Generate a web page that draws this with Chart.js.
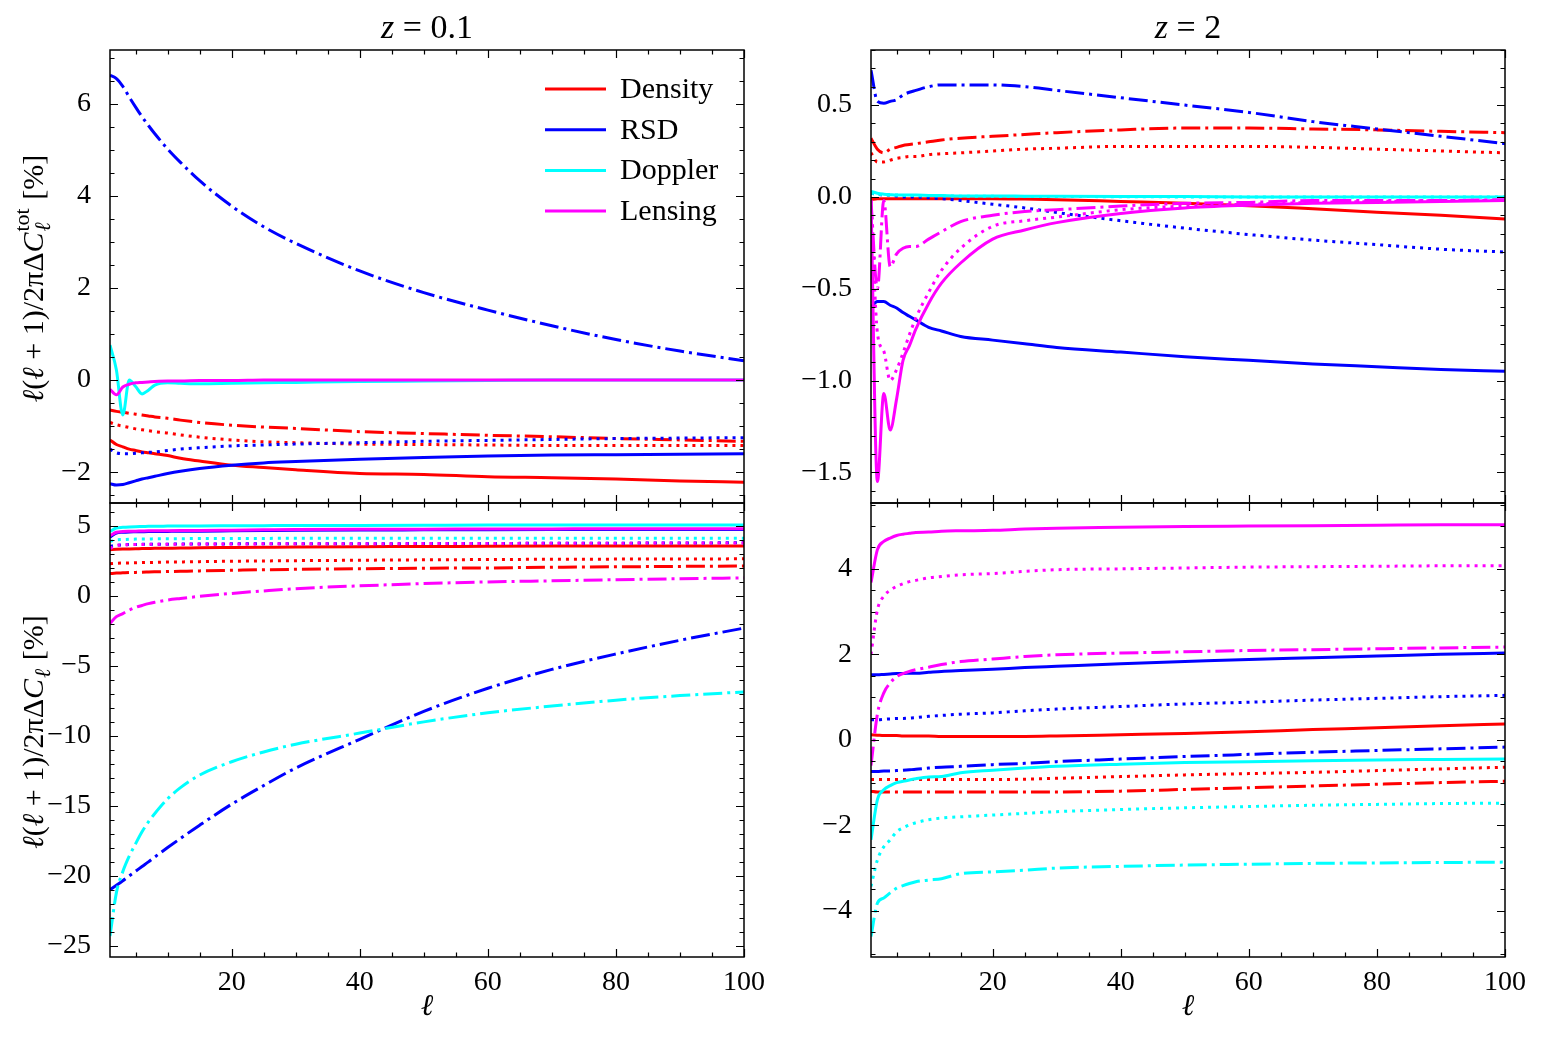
<!DOCTYPE html>
<html>
<head>
<meta charset="utf-8">
<script src="https://cdn.jsdelivr.net/npm/chart.js@4.4.1/dist/chart.umd.min.js"></script>
<style>
body { margin: 0; background: #fff; }
#wrap { position: relative; width: 1543px; height: 1040px; }
canvas { position: absolute; left: 0; top: 0; }
</style>
</head>
<body>
<div id="wrap">
<canvas id="tl" width="1543" height="1040"></canvas>
<canvas id="tr" width="1543" height="1040"></canvas>
<canvas id="bl" width="1543" height="1040"></canvas>
<canvas id="br" width="1543" height="1040"></canvas>
</div>
<script>
// multipoles
var ell = [1, 2, 3, 4, 5, 6, 7, 8, 10, 12, 15, 20, 25, 30, 40, 50, 60, 70, 80, 90, 100];

// z = 0.1, total
var tlDensSolid = [-1.3, -1.4, -1.45, -1.5, -1.53, -1.56, -1.58, -1.6, -1.64, -1.7, -1.76, -1.85, -1.9, -1.95, -2.03, -2.05, -2.1, -2.12, -2.15, -2.19, -2.22];
var tlDensDot = [-0.92, -0.97, -1.0, -1.03, -1.06, -1.08, -1.1, -1.12, -1.15, -1.19, -1.24, -1.3, -1.34, -1.36, -1.39, -1.4, -1.41, -1.42, -1.42, -1.42, -1.42];
var tlDensDashDot = [-0.65, -0.68, -0.7, -0.72, -0.74, -0.76, -0.78, -0.8, -0.83, -0.87, -0.92, -0.98, -1.02, -1.05, -1.12, -1.16, -1.2, -1.23, -1.27, -1.3, -1.33];
var tlRsdSolid = [-2.25, -2.28, -2.27, -2.23, -2.19, -2.15, -2.12, -2.09, -2.03, -1.98, -1.92, -1.85, -1.8, -1.77, -1.72, -1.68, -1.65, -1.63, -1.62, -1.61, -1.6];
var tlRsdDot = [-1.5, -1.58, -1.6, -1.6, -1.59, -1.58, -1.57, -1.56, -1.53, -1.5, -1.47, -1.43, -1.41, -1.39, -1.36, -1.33, -1.31, -1.29, -1.27, -1.26, -1.25];
var tlRsdDashDot = [6.62, 6.55, 6.38, 6.15, 5.93, 5.72, 5.53, 5.35, 5.02, 4.73, 4.33, 3.78, 3.33, 2.97, 2.37, 1.9, 1.52, 1.18, 0.88, 0.63, 0.42];
var tlDopSolid = [0.76, 0.22, -0.76, 0.0, -0.14, -0.3, -0.22, -0.11, -0.06, -0.07, -0.08, -0.07, -0.06, -0.05, -0.03, -0.02, -0.01, 0, 0, 0, 0];
var tlLensSolid = [-0.2, -0.32, -0.15, -0.09, -0.06, -0.05, -0.04, -0.03, -0.02, -0.02, -0.01, -0.01, 0, 0, 0, 0, 0, 0, 0, 0, 0];

// z = 2, total
var trDensSolid = [-0.015, -0.01, -0.01, -0.01, -0.01, -0.01, -0.01, -0.01, -0.01, -0.01, -0.01, -0.01, -0.012, -0.015, -0.025, -0.035, -0.048, -0.065, -0.083, -0.1, -0.12];
var trDensDot = [0.24, 0.19, 0.19, 0.2, 0.21, 0.215, 0.22, 0.22, 0.23, 0.235, 0.24, 0.25, 0.26, 0.265, 0.275, 0.275, 0.275, 0.27, 0.26, 0.25, 0.24];
var trDensDashDot = [0.32, 0.26, 0.24, 0.26, 0.27, 0.28, 0.285, 0.29, 0.3, 0.31, 0.32, 0.33, 0.34, 0.35, 0.365, 0.375, 0.375, 0.37, 0.365, 0.357, 0.35];
var trRsdSolid = [-0.6, -0.57, -0.57, -0.59, -0.605, -0.63, -0.65, -0.67, -0.71, -0.73, -0.76, -0.78, -0.8, -0.82, -0.845, -0.87, -0.89, -0.91, -0.925, -0.94, -0.95];
var trRsdDot = [0.02, 0.015, 0.01, 0.01, 0.005, 0.0, 0.0, 0.0, -0.005, -0.01, -0.02, -0.04, -0.06, -0.085, -0.13, -0.17, -0.205, -0.235, -0.26, -0.285, -0.3];
var trRsdDashDot = [0.69, 0.52, 0.51, 0.52, 0.53, 0.555, 0.57, 0.58, 0.6, 0.61, 0.61, 0.61, 0.6, 0.58, 0.54, 0.5, 0.46, 0.41, 0.37, 0.33, 0.29];
var trDopSolid = [0.03, 0.02, 0.015, 0.012, 0.01, 0.01, 0.01, 0.01, 0.008, 0.007, 0.005, 0.005, 0.004, 0.003, 0.002, 0.002, 0.0, 0.0, 0.0, 0.0, 0.0];
var trDopDot = [0.02, 0.015, 0.012, 0.01, 0.01, 0.008, 0.008, 0.007, 0.006, 0.005, 0.004, 0.003, 0.002, 0.002, 0.001, 0.0, 0.0, 0.0, 0.0, 0.0, 0.0];
var trLensSolid = [-0.02, -1.55, -1.07, -1.27, -1.1, -0.89, -0.81, -0.72, -0.58, -0.47, -0.36, -0.23, -0.18, -0.14, -0.09, -0.06, -0.045, -0.035, -0.03, -0.025, -0.02];
var trLensDot = [-0.02, -0.74, -0.84, -1.0, -0.94, -0.85, -0.75, -0.66, -0.52, -0.4, -0.28, -0.16, -0.13, -0.11, -0.07, -0.05, -0.04, -0.03, -0.025, -0.02, -0.02];
var trLensDashDot = [-0.02, -0.5, -0.02, -0.38, -0.31, -0.28, -0.27, -0.27, -0.23, -0.19, -0.135, -0.1, -0.08, -0.07, -0.05, -0.035, -0.03, -0.02, -0.02, -0.02, -0.015];

// z = 0.1, per term
var blDensSolid = [3.3, 3.33, 3.35, 3.36, 3.37, 3.38, 3.39, 3.4, 3.41, 3.42, 3.44, 3.46, 3.48, 3.5, 3.52, 3.53, 3.55, 3.56, 3.56, 3.57, 3.57];
var blDensDot = [2.3, 2.33, 2.35, 2.36, 2.37, 2.38, 2.39, 2.4, 2.42, 2.43, 2.45, 2.48, 2.5, 2.52, 2.55, 2.58, 2.6, 2.62, 2.63, 2.64, 2.65];
var blDensDashDot = [1.6, 1.63, 1.65, 1.67, 1.68, 1.7, 1.71, 1.72, 1.74, 1.76, 1.79, 1.83, 1.87, 1.9, 1.94, 1.98, 2.0, 2.05, 2.08, 2.11, 2.14];
var blRsdSolid = [4.2, 4.5, 4.55, 4.57, 4.58, 4.59, 4.6, 4.6, 4.61, 4.62, 4.63, 4.65, 4.67, 4.69, 4.71, 4.72, 4.73, 4.74, 4.75, 4.75, 4.75];
var blRsdDot = [3.55, 3.62, 3.65, 3.67, 3.68, 3.69, 3.7, 3.7, 3.7, 3.71, 3.71, 3.72, 3.72, 3.72, 3.73, 3.74, 3.75, 3.76, 3.77, 3.78, 3.8];
var blRsdDashDot = [-21.0, -20.68, -20.35, -20.0, -19.67, -19.33, -19.0, -18.65, -17.98, -17.33, -16.38, -14.88, -13.55, -12.3, -10.25, -8.25, -6.6, -5.25, -4.15, -3.17, -2.3];
var blDopSolid = [4.6, 4.85, 4.9, 4.93, 4.95, 4.96, 4.97, 4.98, 4.99, 5.0, 5.0, 5.01, 5.02, 5.03, 5.04, 5.05, 5.06, 5.06, 5.07, 5.07, 5.07];
var blDopDot = [3.9, 4.0, 4.03, 4.05, 4.06, 4.07, 4.07, 4.08, 4.08, 4.09, 4.1, 4.1, 4.11, 4.12, 4.12, 4.12, 4.13, 4.13, 4.13, 4.13, 4.13];
var blDopDashDot = [-24.3, -21.2, -19.7, -18.6, -17.7, -16.85, -16.15, -15.55, -14.5, -13.7, -12.8, -11.85, -11.15, -10.6, -9.8, -9.0, -8.35, -7.87, -7.45, -7.12, -6.86];
var blLensSolid = [4.3, 4.55, 4.6, 4.62, 4.63, 4.64, 4.65, 4.65, 4.66, 4.67, 4.68, 4.7, 4.72, 4.74, 4.76, 4.77, 4.78, 4.79, 4.8, 4.8, 4.8];
var blLensDot = [3.4, 3.6, 3.64, 3.66, 3.67, 3.68, 3.69, 3.69, 3.7, 3.7, 3.71, 3.71, 3.72, 3.72, 3.73, 3.74, 3.75, 3.76, 3.77, 3.78, 3.79];
var blLensDashDot = [-1.95, -1.48, -1.26, -1.02, -0.82, -0.68, -0.55, -0.45, -0.29, -0.18, -0.03, 0.18, 0.36, 0.52, 0.72, 0.88, 1.0, 1.08, 1.16, 1.23, 1.29];

// z = 2, per term
var brDensSolid = [0.12, 0.11, 0.1, 0.1, 0.1, 0.09, 0.09, 0.09, 0.09, 0.08, 0.08, 0.08, 0.08, 0.09, 0.12, 0.15, 0.19, 0.24, 0.28, 0.33, 0.37];
var brDensDot = [-0.93, -0.93, -0.93, -0.93, -0.93, -0.93, -0.93, -0.93, -0.93, -0.93, -0.93, -0.93, -0.92, -0.9, -0.86, -0.82, -0.79, -0.76, -0.72, -0.68, -0.64];
var brDensDashDot = [-1.2, -1.22, -1.22, -1.22, -1.22, -1.22, -1.22, -1.22, -1.22, -1.22, -1.22, -1.22, -1.22, -1.22, -1.2, -1.16, -1.12, -1.08, -1.04, -1.0, -0.97];
var brRsdSolid = [1.52, 1.52, 1.53, 1.54, 1.55, 1.55, 1.56, 1.56, 1.58, 1.6, 1.62, 1.65, 1.69, 1.72, 1.78, 1.83, 1.88, 1.92, 1.96, 2.0, 2.03];
var brRsdDot = [0.47, 0.47, 0.48, 0.49, 0.5, 0.5, 0.51, 0.52, 0.55, 0.57, 0.6, 0.63, 0.68, 0.72, 0.78, 0.84, 0.88, 0.93, 0.97, 1.01, 1.04];
var brRsdDashDot = [-0.74, -0.74, -0.73, -0.73, -0.72, -0.71, -0.7, -0.69, -0.66, -0.64, -0.62, -0.58, -0.55, -0.51, -0.45, -0.39, -0.34, -0.29, -0.25, -0.21, -0.17];
var brDopSolid = [-2.34, -1.4, -1.17, -1.07, -1.0, -0.97, -0.94, -0.91, -0.87, -0.86, -0.77, -0.71, -0.66, -0.62, -0.57, -0.53, -0.51, -0.49, -0.47, -0.46, -0.45];
var brDopDot = [-3.43, -2.81, -2.5, -2.34, -2.15, -2.06, -1.99, -1.94, -1.87, -1.83, -1.8, -1.76, -1.72, -1.68, -1.63, -1.59, -1.56, -1.53, -1.51, -1.49, -1.48];
var brDopDashDot = [-4.6, -3.82, -3.7, -3.58, -3.47, -3.41, -3.36, -3.32, -3.28, -3.25, -3.13, -3.09, -3.05, -3.0, -2.96, -2.93, -2.91, -2.89, -2.88, -2.87, -2.86];
var brLensSolid = [3.68, 4.45, 4.64, 4.72, 4.78, 4.81, 4.83, 4.85, 4.86, 4.88, 4.89, 4.9, 4.93, 4.95, 4.97, 4.99, 5.0, 5.01, 5.02, 5.03, 5.03];
var brLensDot = [2.0, 3.04, 3.36, 3.5, 3.59, 3.65, 3.7, 3.73, 3.79, 3.82, 3.86, 3.89, 3.94, 3.98, 4.0, 4.02, 4.04, 4.05, 4.06, 4.07, 4.07];
var brLensDashDot = [-0.6, 0.6, 1.1, 1.33, 1.48, 1.55, 1.6, 1.64, 1.7, 1.76, 1.83, 1.89, 1.95, 1.99, 2.03, 2.06, 2.09, 2.11, 2.13, 2.15, 2.17];

var legendNames = ["Density", "RSD", "Doppler", "Lensing"];

var red = "#ff0000", blue = "#0000ff", cyan = "#00ffff", magenta = "#ff00ff";
var legendColors = [red, blue, cyan, magenta];
var dotted = [3, 5], dashdot = [19, 5, 3, 5];
var font = "'Liberation Serif', 'DejaVu Serif', serif";
var fs = 28;

function line(vals, color, dash) {
	return {
		data: ell.map(function (l, i) { return { x: l, y: vals[i] }; }),
		borderColor: color,
		borderWidth: 3,
		borderDash: dash || [],
		pointRadius: 0,
		fill: false,
		cubicInterpolationMode: "monotone"
	};
}

function fmt(dec) {
	return function (v) {
		var s = Math.abs(v).toFixed(dec);
		return (v < -1e-9 ? "\u2212" : "") + s;
	};
}

// text with italic bits, sub/superscripts
function rich(ctx, parts, x, y, size, rot) {
	ctx.save();
	ctx.translate(x, y);
	if (rot) ctx.rotate(rot);
	ctx.fillStyle = "#000";
	ctx.textBaseline = "alphabetic";
	ctx.textAlign = "left";
	function f(it, s) { return (it ? "italic " : "") + Math.round(s) + "px " + font; }
	var total = 0;
	parts.forEach(function (p) {
		if (p.sup || p.sub) {
			ctx.font = f(false, size * 0.72);
			var a = ctx.measureText(p.sup || "").width;
			ctx.font = f(true, size * 0.72);
			var b = ctx.measureText(p.sub || "").width;
			p.w = Math.max(a, b) + 2;
		} else {
			ctx.font = f(p.it, size);
			p.w = ctx.measureText(p.t).width;
		}
		total += p.w;
	});
	var cx = -total / 2, base = size * 0.33;
	parts.forEach(function (p) {
		if (p.sup || p.sub) {
			ctx.font = f(false, size * 0.72);
			if (p.sup) ctx.fillText(p.sup, cx + 1, base - size * 0.45);
			ctx.font = f(true, size * 0.72);
			if (p.sub) ctx.fillText(p.sub, cx + 1, base + size * 0.25);
		} else {
			ctx.font = f(p.it, size);
			ctx.fillText(p.t, cx, base);
		}
		cx += p.w;
	});
	ctx.restore();
}

function decor(cfg) {
	return {
		id: "decor",
		afterDraw: function (chart) {
			var ctx = chart.ctx, a = chart.chartArea;
			var xs = chart.scales.x, ys = chart.scales.y;
			ctx.save();
			ctx.strokeStyle = "#000";
			ctx.lineWidth = 1.2;
			ctx.beginPath();
			var v, big, len, p;
			for (v = Math.ceil(xs.min / 5) * 5; v <= xs.max + 1e-9; v += 5) {
				big = Math.abs(v / 20 - Math.round(v / 20)) < 1e-6;
				len = big ? 8 : 4.5;
				p = Math.round(xs.getPixelForValue(v)) + 0.5;
				ctx.moveTo(p, a.bottom); ctx.lineTo(p, a.bottom - len);
				ctx.moveTo(p, a.top); ctx.lineTo(p, a.top + len);
			}
			var n0 = Math.ceil(ys.min / cfg.minor - 1e-9);
			for (var k = n0; k * cfg.minor <= ys.max + 1e-9; k++) {
				v = k * cfg.minor;
				big = Math.abs(v / cfg.major - Math.round(v / cfg.major)) < 1e-6;
				len = big ? 8 : 4.5;
				p = Math.round(ys.getPixelForValue(v)) + 0.5;
				ctx.moveTo(a.left, p); ctx.lineTo(a.left + len, p);
				ctx.moveTo(a.right, p); ctx.lineTo(a.right - len, p);
			}
			ctx.stroke();
			ctx.lineWidth = 1.5;
			ctx.strokeRect(a.left, a.top, a.right - a.left, a.bottom - a.top);

			var mid = (a.left + a.right) / 2;
			if (cfg.title) rich(ctx, cfg.title, mid, 27, 34);
			if (cfg.xlabel) rich(ctx, [{ t: "\u2113", it: true }], mid, 1005, 30);
			if (cfg.ylabel) rich(ctx, cfg.ylabel, 33, (a.top + a.bottom) / 2 + 2, 30, -Math.PI / 2);

			if (cfg.legend) {
				for (var i = 0; i < legendNames.length; i++) {
					var ly = 89 + i * 40.7;
					ctx.strokeStyle = legendColors[i];
					ctx.lineWidth = 3;
					ctx.beginPath();
					ctx.moveTo(545, ly); ctx.lineTo(606, ly);
					ctx.stroke();
					ctx.fillStyle = "#000";
					ctx.font = "30px " + font;
					ctx.textBaseline = "middle";
					ctx.textAlign = "left";
					ctx.fillText(legendNames[i], 620, ly + 1);
				}
			}
			ctx.restore();
		}
	};
}

function panel(id, sets, opt) {
	var ds = sets.slice().reverse(); // last listed ends up on top
	new Chart(document.getElementById(id), {
		type: "line",
		data: { datasets: ds },
		options: {
			responsive: false,
			animation: false,
			layout: { padding: opt.pad },
			plugins: { legend: { display: false }, tooltip: { enabled: false } },
			scales: {
				x: {
					type: "linear",
					min: 1,
					max: 100,
					grid: { display: false },
					border: { display: false },
					ticks: {
						display: opt.xticks,
						stepSize: 20,
						includeBounds: false,
						maxRotation: 0,
						padding: 1,
						color: "#000",
						font: { family: font, size: fs }
					},
					afterFit: function (s) { s.height = opt.xticks ? 60 : 0; }
				},
				y: {
					min: opt.ymin,
					max: opt.ymax,
					grid: { display: false },
					border: { display: false },
					ticks: {
						stepSize: opt.major,
						includeBounds: false,
						padding: 11,
						color: "#000",
						font: { family: font, size: fs },
						callback: fmt(opt.dec)
					},
					afterFit: function (s) { s.width = 100; }
				}
			}
		},
		plugins: [decor(opt)]
	});
}

var ylabTot = [
	{ t: "\u2113", it: true }, { t: "(" }, { t: "\u2113", it: true }, { t: " + 1)/2\u03c0\u0394" },
	{ t: "C", it: true }, { sup: "tot", sub: "\u2113" }, { t: " [%]" }
];
var ylabTerm = [
	{ t: "\u2113", it: true }, { t: "(" }, { t: "\u2113", it: true }, { t: " + 1)/2\u03c0\u0394" },
	{ t: "C", it: true }, { sub: "\u2113" }, { t: " [%]" }
];

panel("tl", [
	line(tlDensSolid, red), line(tlDensDot, red, dotted), line(tlDensDashDot, red, dashdot),
	line(tlRsdSolid, blue), line(tlRsdDot, blue, dotted), line(tlRsdDashDot, blue, dashdot),
	line(tlDopSolid, cyan), line(tlLensSolid, magenta)
], {
	pad: { left: 10, right: 799, top: 50, bottom: 537 },
	ymin: -2.67, ymax: 7.17, major: 2, minor: 0.5, dec: 0, xticks: false,
	title: [{ t: "z", it: true }, { t: " = 0.1" }], ylabel: ylabTot, legend: true
});

panel("tr", [
	line(trDensSolid, red), line(trDensDot, red, dotted), line(trDensDashDot, red, dashdot),
	line(trRsdSolid, blue), line(trRsdDot, blue, dotted), line(trRsdDashDot, blue, dashdot),
	line(trDopSolid, cyan), line(trDopDot, cyan, dotted),
	line(trLensSolid, magenta), line(trLensDot, magenta, dotted), line(trLensDashDot, magenta, dashdot)
], {
	pad: { left: 771, right: 38, top: 50, bottom: 537 },
	ymin: -1.667, ymax: 0.80, major: 0.5, minor: 0.1, dec: 1, xticks: false,
	title: [{ t: "z", it: true }, { t: " = 2" }]
});

panel("bl", [
	line(blDensSolid, red), line(blDensDot, red, dotted), line(blDensDashDot, red, dashdot),
	line(blRsdSolid, blue), line(blRsdDot, blue, dotted), line(blRsdDashDot, blue, dashdot),
	line(blDopSolid, cyan), line(blDopDot, cyan, dotted), line(blDopDashDot, cyan, dashdot),
	line(blLensSolid, magenta), line(blLensDot, magenta, dotted), line(blLensDashDot, magenta, dashdot)
], {
	pad: { left: 10, right: 799, top: 503, bottom: 23 },
	ymin: -25.8, ymax: 6.64, major: 5, minor: 1, dec: 0, xticks: true,
	xlabel: true, ylabel: ylabTerm
});

panel("br", [
	line(brDensSolid, red), line(brDensDot, red, dotted), line(brDensDashDot, red, dashdot),
	line(brRsdSolid, blue), line(brRsdDot, blue, dotted), line(brRsdDashDot, blue, dashdot),
	line(brDopSolid, cyan), line(brDopDot, cyan, dotted), line(brDopDashDot, cyan, dashdot),
	line(brLensSolid, magenta), line(brLensDot, magenta, dotted), line(brLensDashDot, magenta, dashdot)
], {
	pad: { left: 771, right: 38, top: 503, bottom: 23 },
	ymin: -5.08, ymax: 5.54, major: 2, minor: 0.5, dec: 0, xticks: true,
	xlabel: true
});
</script>
</body>
</html>
